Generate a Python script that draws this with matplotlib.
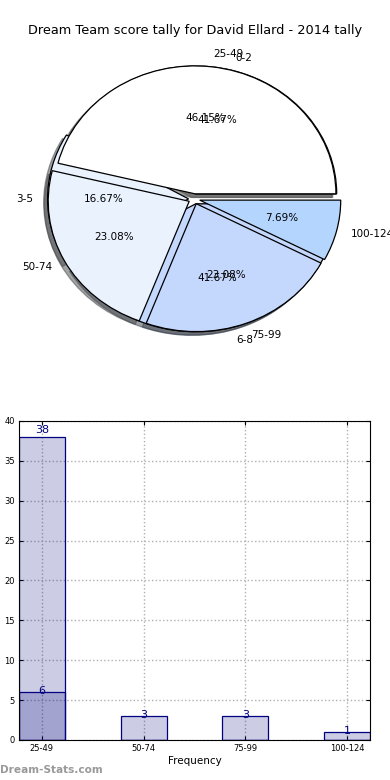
import matplotlib
matplotlib.use("Agg")
import matplotlib.pyplot as plt

# pie data
score_bins = ['25-49', '50-74', '75-99', '100-124']
score_counts = [6, 3, 3, 1]
goal_bins = ['0-2', '3-5', '6-8']
goal_counts = [5, 2, 5]

# bar data
bar_labels = ['25-49', '50-74', '75-99', '100-124']
tally_counts = [6, 3, 3, 1]
other_counts = [38, 0, 0, 0]

pie_colors = ['#ffffff', '#eaf2fe', '#c4d8fe', '#b4d6fe']

fig = plt.figure(figsize=(3.9, 7.8), dpi=100)
fig.text(0.5, 0.961, 'Dream Team score tally for David Ellard - 2014 tally',
         ha='center', va='center', fontsize=9.3)

# pies (no equal aspect, so they come out as ellipses)
ax1 = fig.add_axes([0.046, 0.540, 0.904, 0.410])
ax1.pie(goal_counts, labels=goal_bins, colors=pie_colors[:3], autopct='%.2f%%',
        explode=[0.04] * 3, shadow=True,
        wedgeprops={'linewidth': 0.9, 'edgecolor': 'black'},
        textprops={'fontsize': 7.5})
ax1.pie(score_counts, labels=score_bins, colors=pie_colors, autopct='%.2f%%',
        explode=[0.04] * 4, shadow=True,
        wedgeprops={'linewidth': 0.9, 'edgecolor': 'black'},
        textprops={'fontsize': 7.5})
ax1.set_aspect('auto')
ax1.set_xlim(-1.25, 1.25)
ax1.set_ylim(-1.25, 1.25)
ax1.axis('off')

# bars
ax2 = fig.add_axes([0.0487, 0.0513, 0.9, 0.409])
x = list(range(len(bar_labels)))
ax2.bar(x, tally_counts, width=0.45, color='navy', alpha=0.2, edgecolor='none')
ax2.bar(x, other_counts, width=0.45, color='navy', alpha=0.2, edgecolor='none')
ax2.bar(x, tally_counts, width=0.45, fill=False, edgecolor='navy', linewidth=0.9)
ax2.bar(x, other_counts, width=0.45, fill=False, edgecolor='navy', linewidth=0.9)
for i, v in enumerate(tally_counts):
    if v:
        ax2.text(i, v + 0.1, str(v), ha='center', va='center', color='navy', fontsize=8)
for i, v in enumerate(other_counts):
    if v:
        ax2.text(i, v + 0.3, str(v), ha='center', va='bottom', color='navy', fontsize=8)

ax2.set_xlim(-0.225, 3.225)
ax2.set_ylim(0, 40)
ax2.set_xticks(x)
ax2.set_xticklabels(bar_labels)
ax2.set_yticks(range(0, 41, 5))
ax2.tick_params(labelsize=6, direction='in', top=True, right=True, length=3, pad=3)
ax2.grid(True, linestyle=':', color='#b0b0b0', linewidth=1)
ax2.set_axisbelow(True)
ax2.set_xlabel('Frequency', fontsize=7.5, labelpad=2)

fig.text(0.0, 0.013, 'Dream-Stats.com', color='#999999', fontsize=7.6,
         fontweight='bold', ha='left', va='center')

fig.savefig('out.png', dpi=100)
